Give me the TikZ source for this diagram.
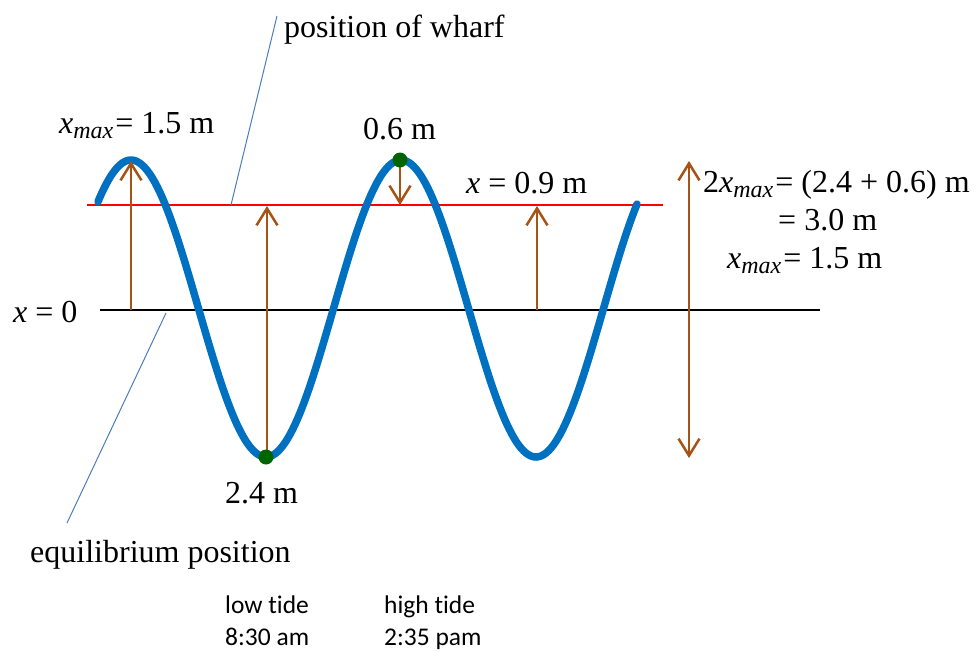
\documentclass[tikz,border=0pt]{standalone}
\usepackage{fontspec}
\setmainfont{Liberation Serif}
\newfontfamily\calib[Ligatures=NoCommon]{Carlito}
\usetikzlibrary{arrows.meta}
\definecolor{wavec}{RGB}{0,112,192}
\definecolor{arrc}{RGB}{166,84,22}
\definecolor{leadc}{RGB}{74,126,187}
\definecolor{dotc}{RGB}{0,100,0}
\newcommand\xm{\textit{x}\raisebox{-5pt}{\fontsize{24}{24}\selectfont\itshape max}\kern2pt}
\begin{document}
\begin{tikzpicture}[x=1pt,y=-1pt,
  font=\fontsize{32}{38}\selectfont,
  lbl/.style={anchor=base west, inner sep=0pt},
  sans/.style={anchor=base west, inner sep=0pt, font=\calib\fontsize{25.5}{30}\selectfont},
  barb/.style={arrc, line width=2.5pt, -{Straight Barb[length=17pt,width=21pt]}},
  dbarb/.style={arrc, line width=2.5pt, {Straight Barb[length=17pt,width=21pt]}-{Straight Barb[length=17pt,width=21pt]}},
  leader/.style={leadc, line width=1pt},
  gdot/.style={circle, fill=dotc, inner sep=0pt, minimum size=15pt}]
\useasboundingbox (0,0) rectangle (976,651);
% reference lines
\coordinate (e0) at (100,310); \coordinate (e1) at (820,310);
\coordinate (r0) at (87,205);  \coordinate (r1) at (663,205);
\draw[black, line width=2pt] (e0) -- (e1);
\draw[red, line width=2pt] (r0) -- (r1);
% wave
\draw[wavec, line width=7.5pt, line cap=round]
  plot[domain=98:637, samples=220, smooth] (\x, {308.5-148.5*cos((\x-131)/270*360)});
% arrows
\coordinate (a1s) at (131,310); \coordinate (a1e) at (131,161);
\coordinate (a2s) at (267,457); \coordinate (a2e) at (267,206);
\coordinate (a3s) at (400,160); \coordinate (a3e) at (400,205);
\coordinate (a4s) at (537,310); \coordinate (a4e) at (537,206);
\coordinate (a5s) at (689,161); \coordinate (a5e) at (689,458);
\draw[barb] (a1s) -- (a1e);
\draw[barb] (a2s) -- (a2e);
\draw[barb] (a3s) -- (a3e);
\draw[barb] (a4s) -- (a4e);
\draw[dbarb] (a5s) -- (a5e);
% dots
\node[gdot] (low) at (266,457) {};
\node[gdot] (high) at (400,160) {};
% leader lines
\coordinate (w0) at (231,205); \coordinate (w1) at (277,16);
\coordinate (q0) at (166,313); \coordinate (q1) at (67,523);
\draw[leader] (w0) -- (w1);
\draw[leader] (q0) -- (q1);
% labels
\node[lbl] (wharf) at (284,37) {position of wharf};
\node[lbl] (xmax1) at (59,133) {\xm= 1.5 m};
\node[lbl] (p06) at (363,139) {0.6 m};
\node[lbl] (x09) at (466,193) {\textit{x} = 0.9 m};
\node[lbl] (x0) at (13,322) {\textit{x} = 0};
\node[lbl] (p24) at (225,503) {2.4 m};
\node[lbl] (equil) at (30,562) {equilibrium position};
\node[lbl] (r1l) at (703,192) {2\xm= (2.4 + 0.6) m};
\node[lbl] (r2l) at (778,230) {= 3.0 m};
\node[lbl] (r3l) at (727,268) {\xm= 1.5 m};
\node[sans] (lt1) at (225,613) {low tide};
\node[sans] (lt2) at (225,645) {8:30 am};
\node[sans] (ht1) at (384,613) {high tide};
\node[sans] (ht2) at (384,645) {2:35 pam};
\end{tikzpicture}
\end{document}
